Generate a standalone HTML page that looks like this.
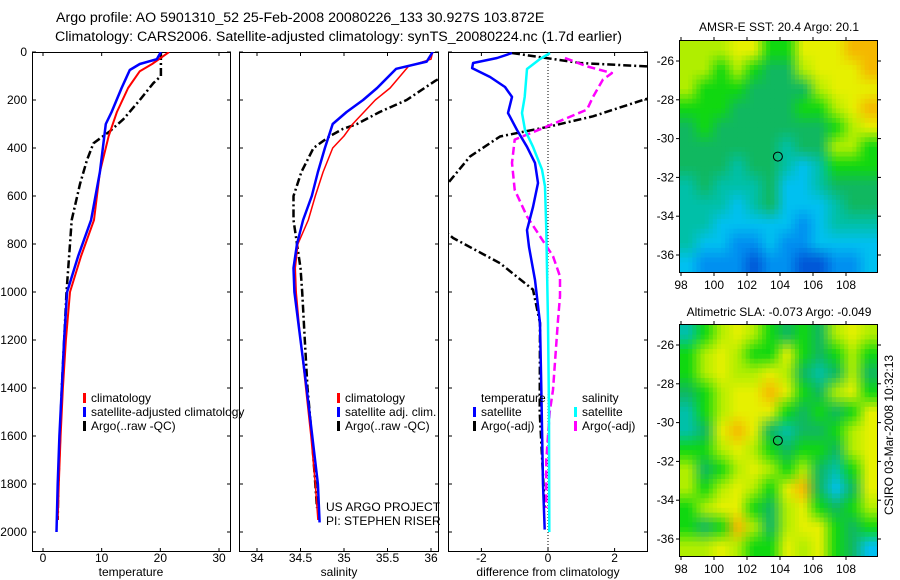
<!DOCTYPE html>
<html><head><meta charset="utf-8"><style>
body{margin:0;background:#fff}
svg{display:block;font-family:"Liberation Sans",sans-serif}
</style></head><body>
<svg id="chart" width="900" height="580" viewBox="0 0 900 580" xmlns="http://www.w3.org/2000/svg">
<defs>
<clipPath id="c1"><rect x="32" y="52" width="199" height="500"/></clipPath>
<clipPath id="c2"><rect x="239" y="52" width="200" height="500"/></clipPath>
<clipPath id="c3"><rect x="448" y="52" width="200" height="500"/></clipPath>
</defs>
<text x="56" y="22" font-size="14.2">Argo profile: AO 5901310_52 25-Feb-2008 20080226_133 30.927S 103.872E</text>
<text x="55" y="41" font-size="14.2">Climatology: CARS2006. Satellite-adjusted climatology: synTS_20080224.nc (1.7d earlier)</text>
<text x="779" y="31" font-size="12" text-anchor="middle">AMSR-E SST: 20.4 Argo: 20.1</text>
<text x="779" y="316" font-size="12" text-anchor="middle">Altimetric SLA: -0.073 Argo: -0.049</text>
<text transform="translate(893,435) rotate(-90)" font-size="12" text-anchor="middle">CSIRO 03-Mar-2008 10:32:13</text>
<g id="g"></g>
</svg>
<script>
// ---- data ----
const depthTicks=[0,200,400,600,800,1000,1200,1400,1600,1800,2000];
const tTicks=[0,10,20,30];
const sTicks=[34,34.5,35,35.5,36];
const sTickLabels=["34","34.5","35","35.5","36"];
const dTicks=[-2,0,2];
const tClimDep=[0,50,80,150,250,350,500,700,850,1000,1200,1400,1600,1800,1950];
const tClim=[21.5,18.6,16.5,14.5,12.6,11.2,9.7,8.7,6.5,4.6,3.9,3.4,3.0,2.7,2.5];
const tSatDep=[0,30,50,75,150,250,300,500,700,850,1000,1200,1400,1600,1800,2000];
const tSat=[20.1,19.4,16.5,14.8,13.4,11.7,10.7,9.7,8.2,6.0,4.1,3.6,3.2,2.8,2.5,2.3];
const tArgoDep=[0,100,130,200,280,330,380,450,550,700,800,1000,1400,1800,1950];
const tArgo=[20.1,20.1,18.8,16.5,13.7,11.4,8.6,7.5,6.3,4.9,4.6,4.0,3.2,2.6,2.5];
const sClimDep=[0,30,60,150,200,300,350,400,500,600,700,800,900,1000,1200,1400,1600,1800,1950];
const sClim=[36.02,36.0,35.74,35.53,35.36,35.1,35.0,34.87,34.76,34.67,34.59,34.47,34.44,34.45,34.5,34.56,34.62,34.67,34.7];
const sSatDep=[0,40,70,150,200,250,300,400,500,600,700,800,900,1000,1400,1800,1960];
const sSat=[36.02,35.95,35.6,35.38,35.22,35.03,34.87,34.78,34.7,34.63,34.53,34.46,34.42,34.43,34.57,34.7,34.72];
const sArgoDep=[50,120,200,250,300,320,350,400,500,600,700,800,900,1000,1200,1400,1600,1800,1900];
const sArgo=[36.4,36.05,35.72,35.41,35.15,34.99,34.84,34.65,34.51,34.42,34.42,34.46,34.5,34.52,34.55,34.58,34.63,34.67,34.69];
const dTSatDep=[4,25,46,67,104,146,187,254,325,395,462,546,646,742,812,950,1129,1400,1800,1990];
const dTSat=[-1.08,-1.53,-2.25,-2.28,-1.74,-1.29,-1.08,-1.2,-0.93,-0.63,-0.39,-0.3,-0.45,-0.63,-0.57,-0.39,-0.24,-0.2,-0.15,-0.1];
const dSSatDep=[4,29,71,187,254,325,395,490,560,742,1129,1500,2000];
const dSSat=[0.06,-0.24,-0.63,-0.7,-0.78,-0.69,-0.45,-0.18,-0.09,-0.05,0,0.03,0.04];
const dTArgoDep=[4,46,60,100,150,200,268,310,352,435,546,600,700,775,880,990,1129,1500,1900];
const dTArgo=[-1.08,0.96,2.97,4,4,2.85,1.35,0.06,-1.44,-2.34,-3.0,-3.5,-3.5,-2.85,-1.44,-0.45,-0.24,-0.25,-0.1];
const dSArgoDep=[25,60,88,115,187,240,282,317,365,462,574,685,768,851,935,1018,1117,1408,1500,1700,1900];
const dSArgo=[0.51,1.17,1.92,1.65,1.35,1.17,0.45,-0.15,-1.0,-1.08,-1.0,-0.63,-0.24,0.15,0.36,0.36,0.3,0.15,0.05,-0.05,-0.05];
const sstGrid=["LLLYYGGYYYOO","LLGLGDDLYYYO","LGGGDDDDLYYY","GGGDDDDGGLYO","DGDDDDDDDGLY","DDDDDDTDDLLG","DDDTDDTCTGGG","TDTTTDCCTDDD","TTTCTDCCCTDD","TTCCCCCBCTTT","TCCBBCBBCCCC","CBBBNBBNNBBC"];
const slaGrid=["TGLYLGDGDLYL","GLYLGGYGDGLG","GLYLLYLDTDLD","DGLYYOYGDLYG","TGLYYYGDGDGY","TDYOYDTDDGLY","GGLYLGDGGDLY","LDGLYLGLDTGY","LGLYLGYODCDY","GLYYGDLYGDGL","GDGOLDLYYGDG","LLYLGGYLYGDC"];
const lonTicks=[98,100,102,104,106,108];
const latTicks=[-26,-28,-30,-32,-34,-36];
const argoLon=103.872, argoLat=-30.927;
// ---- drawing ----
const NS="http://www.w3.org/2000/svg";const G=document.getElementById('g');
function mk(t,a,p){const e=document.createElementNS(NS,t);for(const k in a)e.setAttribute(k,a[k]);(p||G).appendChild(e);return e;}
const yD=d=>52+d*0.24;
const xT=v=>43+v*5.867, xS=v=>257+(v-34)*87, xDf=v=>548+v*33.3;
const panels=[[32,231,xT,'temperature',131],[239,439,xS,'salinity',339],[448,648,xDf,'difference from climatology',548]];
depthTicks.forEach(d=>{const t=mk('text',{x:27,y:yD(d)+4,'font-size':12,'text-anchor':'end'});t.textContent=d;

});
function axes(i,ticks,labels,name){const [x0,x1,fx,lab,cx]=panels[i];
 const r=mk('rect',{x:x0+.5,y:52.5,width:x1-x0-1,height:499,fill:'none',stroke:'#000'});
 
 
 depthTicks.forEach(d=>{mk('line',{x1:x0,x2:x0+4,y1:yD(d),y2:yD(d),stroke:'#000'});mk('line',{x1:x1-4,x2:x1,y1:yD(d),y2:yD(d),stroke:'#000'});});
 ticks.forEach((v,j)=>{const x=fx(v);mk('line',{x1:x,x2:x,y1:52,y2:56,stroke:'#000'});mk('line',{x1:x,x2:x,y1:548,y2:552,stroke:'#000'});
  const t=mk('text',{x:x,y:562,'font-size':12,'text-anchor':'middle'});t.textContent=labels[j];
  
  });
 const t=mk('text',{x:cx,y:576,'font-size':12,'text-anchor':'middle'});t.textContent=lab;
 
 }
axes(0,tTicks,tTicks.map(String),'temperature');
axes(1,sTicks,sTickLabels,'salinity');
axes(2,dTicks,dTicks.map(String),'difference');
mk('line',{x1:xDf(0),x2:xDf(0),y1:52,y2:552,stroke:'#000','stroke-dasharray':'1 2'});
function line(dep,val,fx,clip,col,w,dash,name){const pts=dep.map((d,i)=>fx(val[i]).toFixed(1)+','+yD(d).toFixed(1)).join(' ');
 const a={points:pts,fill:'none',stroke:col,'stroke-width':w,'clip-path':'url(#'+clip+')','stroke-linejoin':'round'};if(dash)a['stroke-dasharray']=dash;
 const e=mk('polyline',a);
 
 }
const DASH='8 3 2 3';
line(tArgoDep,tArgo,xT,'c1','#000',2.5,DASH,'temp-argo-line');
line(tClimDep,tClim,xT,'c1','#f00',2,null,'temp-climatology-line');
line(tSatDep,tSat,xT,'c1','#00f',2.5,null,'temp-satellite-line');
line(sArgoDep,sArgo,xS,'c2','#000',2.5,DASH,'sal-argo-line');
line(sClimDep,sClim,xS,'c2','#f00',1.5,null,'sal-climatology-line');
line(sSatDep,sSat,xS,'c2','#00f',2.5,null,'sal-satellite-line');
line(dTArgoDep,dTArgo,xDf,'c3','#000',2.5,DASH,'diff-temp-argo-line');
line(dSArgoDep,dSArgo,xDf,'c3','#f0f',2.5,'8 4','diff-sal-argo-line');
line(dTSatDep,dTSat,xDf,'c3','#00f',2.5,null,'diff-temp-satellite-line');
line(dSSatDep,dSSat,xDf,'c3','#0ff',2.5,null,'diff-sal-satellite-line');
function leg(x,y,col,txt,name){if(col)mk('rect',{x:x,y:y-9,width:3,height:10,fill:col});
 const t=mk('text',{x:x+(col?8:0),y:y,'font-size':12});t.textContent=txt;
 
 }
leg(83,402,'#f00','climatology','legend-temp-climatology');
leg(83,416,'#00f','satellite-adjusted climatology','legend-temp-satellite');
leg(83,430,'#000','Argo(..raw -QC)','legend-temp-argo');
leg(337,402,'#f00','climatology','legend-sal-climatology');
leg(337,416,'#00f','satellite adj. clim.','legend-sal-satellite');
leg(337,430,'#000','Argo(..raw -QC)','legend-sal-argo');
leg(481,402,null,'temperature','legend-diff-temp-header');
leg(473,416,'#00f','satellite','legend-diff-temp-satellite');
leg(473,430,'#000','Argo(-adj)','legend-diff-temp-argo');
leg(582,402,null,'salinity','legend-diff-sal-header');
leg(574,416,'#0ff','satellite','legend-diff-sal-satellite');
leg(574,430,'#f0f','Argo(-adj)','legend-diff-sal-argo');
leg(326,511,null,'US ARGO PROJECT','project-label');
leg(326,525,null,'PI: STEPHEN RISER','pi-label');
// maps
const PAL={O:[245,184,0],Y:[230,240,0],L:[176,238,0],G:[16,216,16],D:[16,184,96],T:[0,192,168],C:[0,192,240],B:[0,144,240],N:[0,88,216]};
function map(grid,top,name){const x0=680,x1=877,y1=top+231;
 const lx=v=>681+(v-98)*16.5, ly=v=>top+20+(-26-v)*19.4;
 const n=12, sub=4, N=n*sub, cw=(x1-x0)/N, ch=(y1-top)/N;
 const g=mk('g',{});
 const col=(r,k)=>PAL[grid[Math.max(0,Math.min(n-1,r))][Math.max(0,Math.min(n-1,k))]];
 for(let i=0;i<N;i++)for(let j=0;j<N;j++){
  const fy=(i+0.5)/sub-0.5, fx=(j+0.5)/sub-0.5;
  const r0=Math.floor(fy),k0=Math.floor(fx),ty=fy-r0,tx=fx-k0;
  const a=col(r0,k0),b=col(r0,k0+1),c=col(r0+1,k0),d=col(r0+1,k0+1);
  const rgb=[0,1,2].map(q=>Math.round(a[q]*(1-tx)*(1-ty)+b[q]*tx*(1-ty)+c[q]*(1-tx)*ty+d[q]*tx*ty));
  mk('rect',{x:(x0+j*cw).toFixed(2),y:(top+i*ch).toFixed(2),width:(cw+0.5).toFixed(2),height:(ch+0.5).toFixed(2),fill:'rgb('+rgb.join(',')+')'},g);}
 mk('rect',{x:x0-.5,y:top-.5,width:x1-x0+1,height:y1-top+1,fill:'none',stroke:'#000'});
 lonTicks.forEach(v=>{mk('line',{x1:lx(v),x2:lx(v),y1:top-4,y2:top,stroke:'#000'});mk('line',{x1:lx(v),x2:lx(v),y1:y1,y2:y1+4,stroke:'#000'});
  const t=mk('text',{x:lx(v),y:y1+17,'font-size':12,'text-anchor':'middle'});t.textContent=v;
  
  });
 latTicks.forEach(v=>{mk('line',{x1:x0-4,x2:x0,y1:ly(v),y2:ly(v),stroke:'#000'});mk('line',{x1:x1,x2:x1+4,y1:ly(v),y2:ly(v),stroke:'#000'});
  const t=mk('text',{x:x0-6,y:ly(v)+4,'font-size':12,'text-anchor':'end'});t.textContent=v;
  
  });
 const c=mk('circle',{cx:lx(argoLon),cy:ly(argoLat),r:4.5,fill:'none',stroke:'#000'});
 
 }
map(sstGrid,41,'sst-map');
map(slaGrid,325,'sla-map');
</script>
</body></html>
